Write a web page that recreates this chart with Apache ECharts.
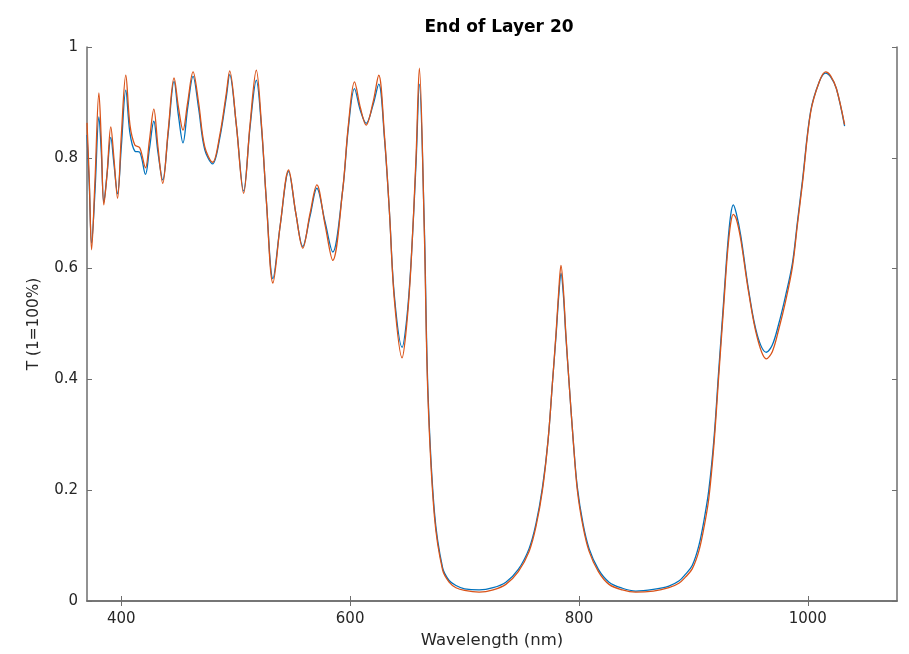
<!DOCTYPE html>
<html>
<head>
<meta charset="utf-8">
<script src="https://cdn.jsdelivr.net/npm/echarts@6/dist/echarts.min.js"></script>
<style>
  html, body { margin: 0; padding: 0; background: #ffffff; }
  #chart { width: 909px; height: 654px; }
</style>
</head>
<body>
<div id="chart"></div>
<script>
// Wavelength samples (nm) shared by both transmission curves
const wavelength = [
  370, 372, 374, 377, 380.4, 382.5, 384.7, 387.5, 390.8, 393.5,
  396.7, 400, 403.9, 407.5, 411.8, 416.1, 421.1, 424.5, 428.4, 432,
  436.2, 441, 446.1, 450, 453.9, 458, 462.7, 467.5, 472.9, 479.8,
  486, 491.8, 494.7, 500.5, 506.9, 512.5, 518, 522.5, 526.7, 532.5,
  539, 546.2, 552.5, 558.6, 565, 570.9, 578, 584.8, 593.5, 598.5,
  603.8, 609, 614, 620, 625, 630, 634.3, 638.7, 645.4, 649.5,
  653.2, 657.6, 660.5, 664.8, 668, 673.7, 680.8, 686.5, 692.5, 700,
  712.8, 725, 736.1, 747, 756.5, 762.5, 768.1, 773, 776.8, 780,
  782.5, 784.3, 786.3, 788.5, 791.4, 795, 798.6, 803.5, 808.8, 817,
  826.3, 838, 849.6, 865, 878.6, 887.3, 893, 899, 904.8, 909.5,
  913.5, 917.9, 922.3, 926.6, 929.7, 932.5, 934.9, 937.5, 941.4, 948.4,
  955.9, 963.8, 969, 974.6, 980.5, 986.6, 991, 995.3, 1002.5, 1010,
  1015.6, 1020, 1025, 1032.2
];

// Transmission, first curve (blue)
const transBlue = [
  0.841, 0.75, 0.646, 0.74, 0.874, 0.81, 0.72, 0.77, 0.837, 0.79,
  0.735, 0.82, 0.922, 0.845, 0.812, 0.81, 0.77, 0.815, 0.866, 0.81,
  0.76, 0.845, 0.938, 0.875, 0.827, 0.89, 0.947, 0.89, 0.815, 0.789,
  0.835, 0.91, 0.95, 0.86, 0.74, 0.855, 0.94, 0.855, 0.725, 0.582,
  0.68, 0.775, 0.7, 0.64, 0.695, 0.745, 0.685, 0.63, 0.742, 0.855,
  0.925, 0.885, 0.862, 0.895, 0.933, 0.835, 0.704, 0.55, 0.458, 0.51,
  0.61, 0.79, 0.933, 0.68, 0.38, 0.16, 0.06, 0.037, 0.028, 0.022,
  0.02, 0.024, 0.034, 0.057, 0.095, 0.14, 0.205, 0.29, 0.393, 0.48,
  0.555, 0.592, 0.555, 0.48, 0.393, 0.29, 0.205, 0.14, 0.095, 0.057,
  0.034, 0.023, 0.018, 0.021, 0.027, 0.036, 0.048, 0.064, 0.1, 0.148,
  0.2, 0.29, 0.42, 0.545, 0.635, 0.695, 0.715, 0.7, 0.66, 0.56,
  0.48, 0.449, 0.462, 0.5, 0.55, 0.61, 0.685, 0.758, 0.884, 0.937,
  0.953, 0.946, 0.925, 0.857
];

// Transmission, second curve (orange)
const transOrange = [
  0.863, 0.76, 0.634, 0.76, 0.917, 0.83, 0.715, 0.77, 0.856, 0.8,
  0.727, 0.84, 0.949, 0.86, 0.823, 0.818, 0.782, 0.83, 0.888, 0.82,
  0.754, 0.85, 0.944, 0.89, 0.85, 0.9, 0.955, 0.9, 0.82, 0.792,
  0.84, 0.917, 0.957, 0.86, 0.736, 0.86, 0.958, 0.86, 0.725, 0.574,
  0.68, 0.778, 0.7, 0.637, 0.7, 0.751, 0.68, 0.615, 0.742, 0.86,
  0.937, 0.89, 0.859, 0.9, 0.949, 0.84, 0.704, 0.543, 0.439, 0.5,
  0.606, 0.801, 0.962, 0.67, 0.37, 0.152, 0.056, 0.034, 0.024, 0.019,
  0.016, 0.02, 0.03, 0.053, 0.09, 0.135, 0.2, 0.29, 0.393, 0.484,
  0.565, 0.606, 0.565, 0.484, 0.393, 0.29, 0.2, 0.135, 0.09, 0.053,
  0.03, 0.02, 0.016, 0.018, 0.024, 0.032, 0.043, 0.058, 0.09, 0.135,
  0.185, 0.28, 0.41, 0.535, 0.625, 0.68, 0.698, 0.69, 0.653, 0.556,
  0.475, 0.437, 0.45, 0.49, 0.54, 0.603, 0.68, 0.753, 0.882, 0.937,
  0.955, 0.948, 0.925, 0.86
];

// Tick positions
const xTicks = [400, 600, 800, 1000];
const yTicks = [0, 0.2, 0.4, 0.6, 0.8, 1];

const textColor = '#262626';
const frameColor = '#6e6e6e';
const fontFamily = '"DejaVu Sans", "Liberation Sans", sans-serif';

function pairs(xs, ys) {
  return xs.map((x, i) => [x, ys[i]]);
}

const frameLine = { show: true, lineStyle: { color: frameColor, width: 1.5 } };
const innerTick = { show: true, inside: true, length: 5, lineStyle: { color: frameColor, width: 1 } };

const chart = echarts.init(document.getElementById('chart'), null, { renderer: 'canvas' });

chart.setOption({
  animation: false,
  backgroundColor: '#ffffff',
  title: {
    text: 'End of Layer 20',
    left: 494,
    textAlign: 'center',
    top: 14,
    textStyle: { fontFamily, fontSize: 17, fontWeight: 'bold', color: '#000000' }
  },
  grid: { left: 87, right: 12, top: 47, bottom: 53, containLabel: false },
  xAxis: [
    {
      type: 'value',
      position: 'bottom',
      min: 370,
      max: 1078,
      name: 'Wavelength (nm)',
      nameLocation: 'middle',
      nameGap: 30,
      nameTextStyle: { fontFamily, fontSize: 16.5, color: textColor },
      axisLine: frameLine,
      axisTick: Object.assign({}, innerTick, { customValues: xTicks }),
      axisLabel: {
        customValues: xTicks,
        formatter: (v) => String(v),
        fontFamily, fontSize: 15, color: textColor, margin: 11
      },
      splitLine: { show: false }
    },
    {
      type: 'value',
      position: 'top',
      min: 370,
      max: 1078,
      axisLine: frameLine,
      axisTick: Object.assign({}, innerTick, { customValues: xTicks }),
      axisLabel: { show: false },
      splitLine: { show: false }
    }
  ],
  yAxis: [
    {
      type: 'value',
      position: 'left',
      min: 0,
      max: 1,
      interval: 0.2,
      name: 'T (1=100%)',
      nameLocation: 'middle',
      nameGap: 45,
      nameTextStyle: { fontFamily, fontSize: 15.3, color: textColor },
      axisLine: frameLine,
      axisTick: Object.assign({}, innerTick, { customValues: yTicks }),
      axisLabel: {
        customValues: yTicks,
        formatter: (v) => String(Math.round(v * 10) / 10),
        fontFamily, fontSize: 15, color: textColor, margin: 9
      },
      splitLine: { show: false }
    },
    {
      type: 'value',
      position: 'right',
      min: 0,
      max: 1,
      interval: 0.2,
      axisLine: frameLine,
      axisTick: Object.assign({}, innerTick, { customValues: yTicks }),
      axisLabel: { show: false },
      splitLine: { show: false }
    }
  ],
  series: [
    {
      name: 'Calculated',
      type: 'line',
      xAxisIndex: 0,
      yAxisIndex: 0,
      data: pairs(wavelength, transBlue),
      smooth: 0.35,
      symbol: 'none',
      lineStyle: { color: '#0072BD', width: 1.3 },
      z: 2
    },
    {
      name: 'Monitored',
      type: 'line',
      xAxisIndex: 0,
      yAxisIndex: 0,
      data: pairs(wavelength, transOrange),
      smooth: 0.35,
      symbol: 'none',
      lineStyle: { color: '#D95319', width: 1.3 },
      z: 3
    }
  ]
});
</script>
</body>
</html>
